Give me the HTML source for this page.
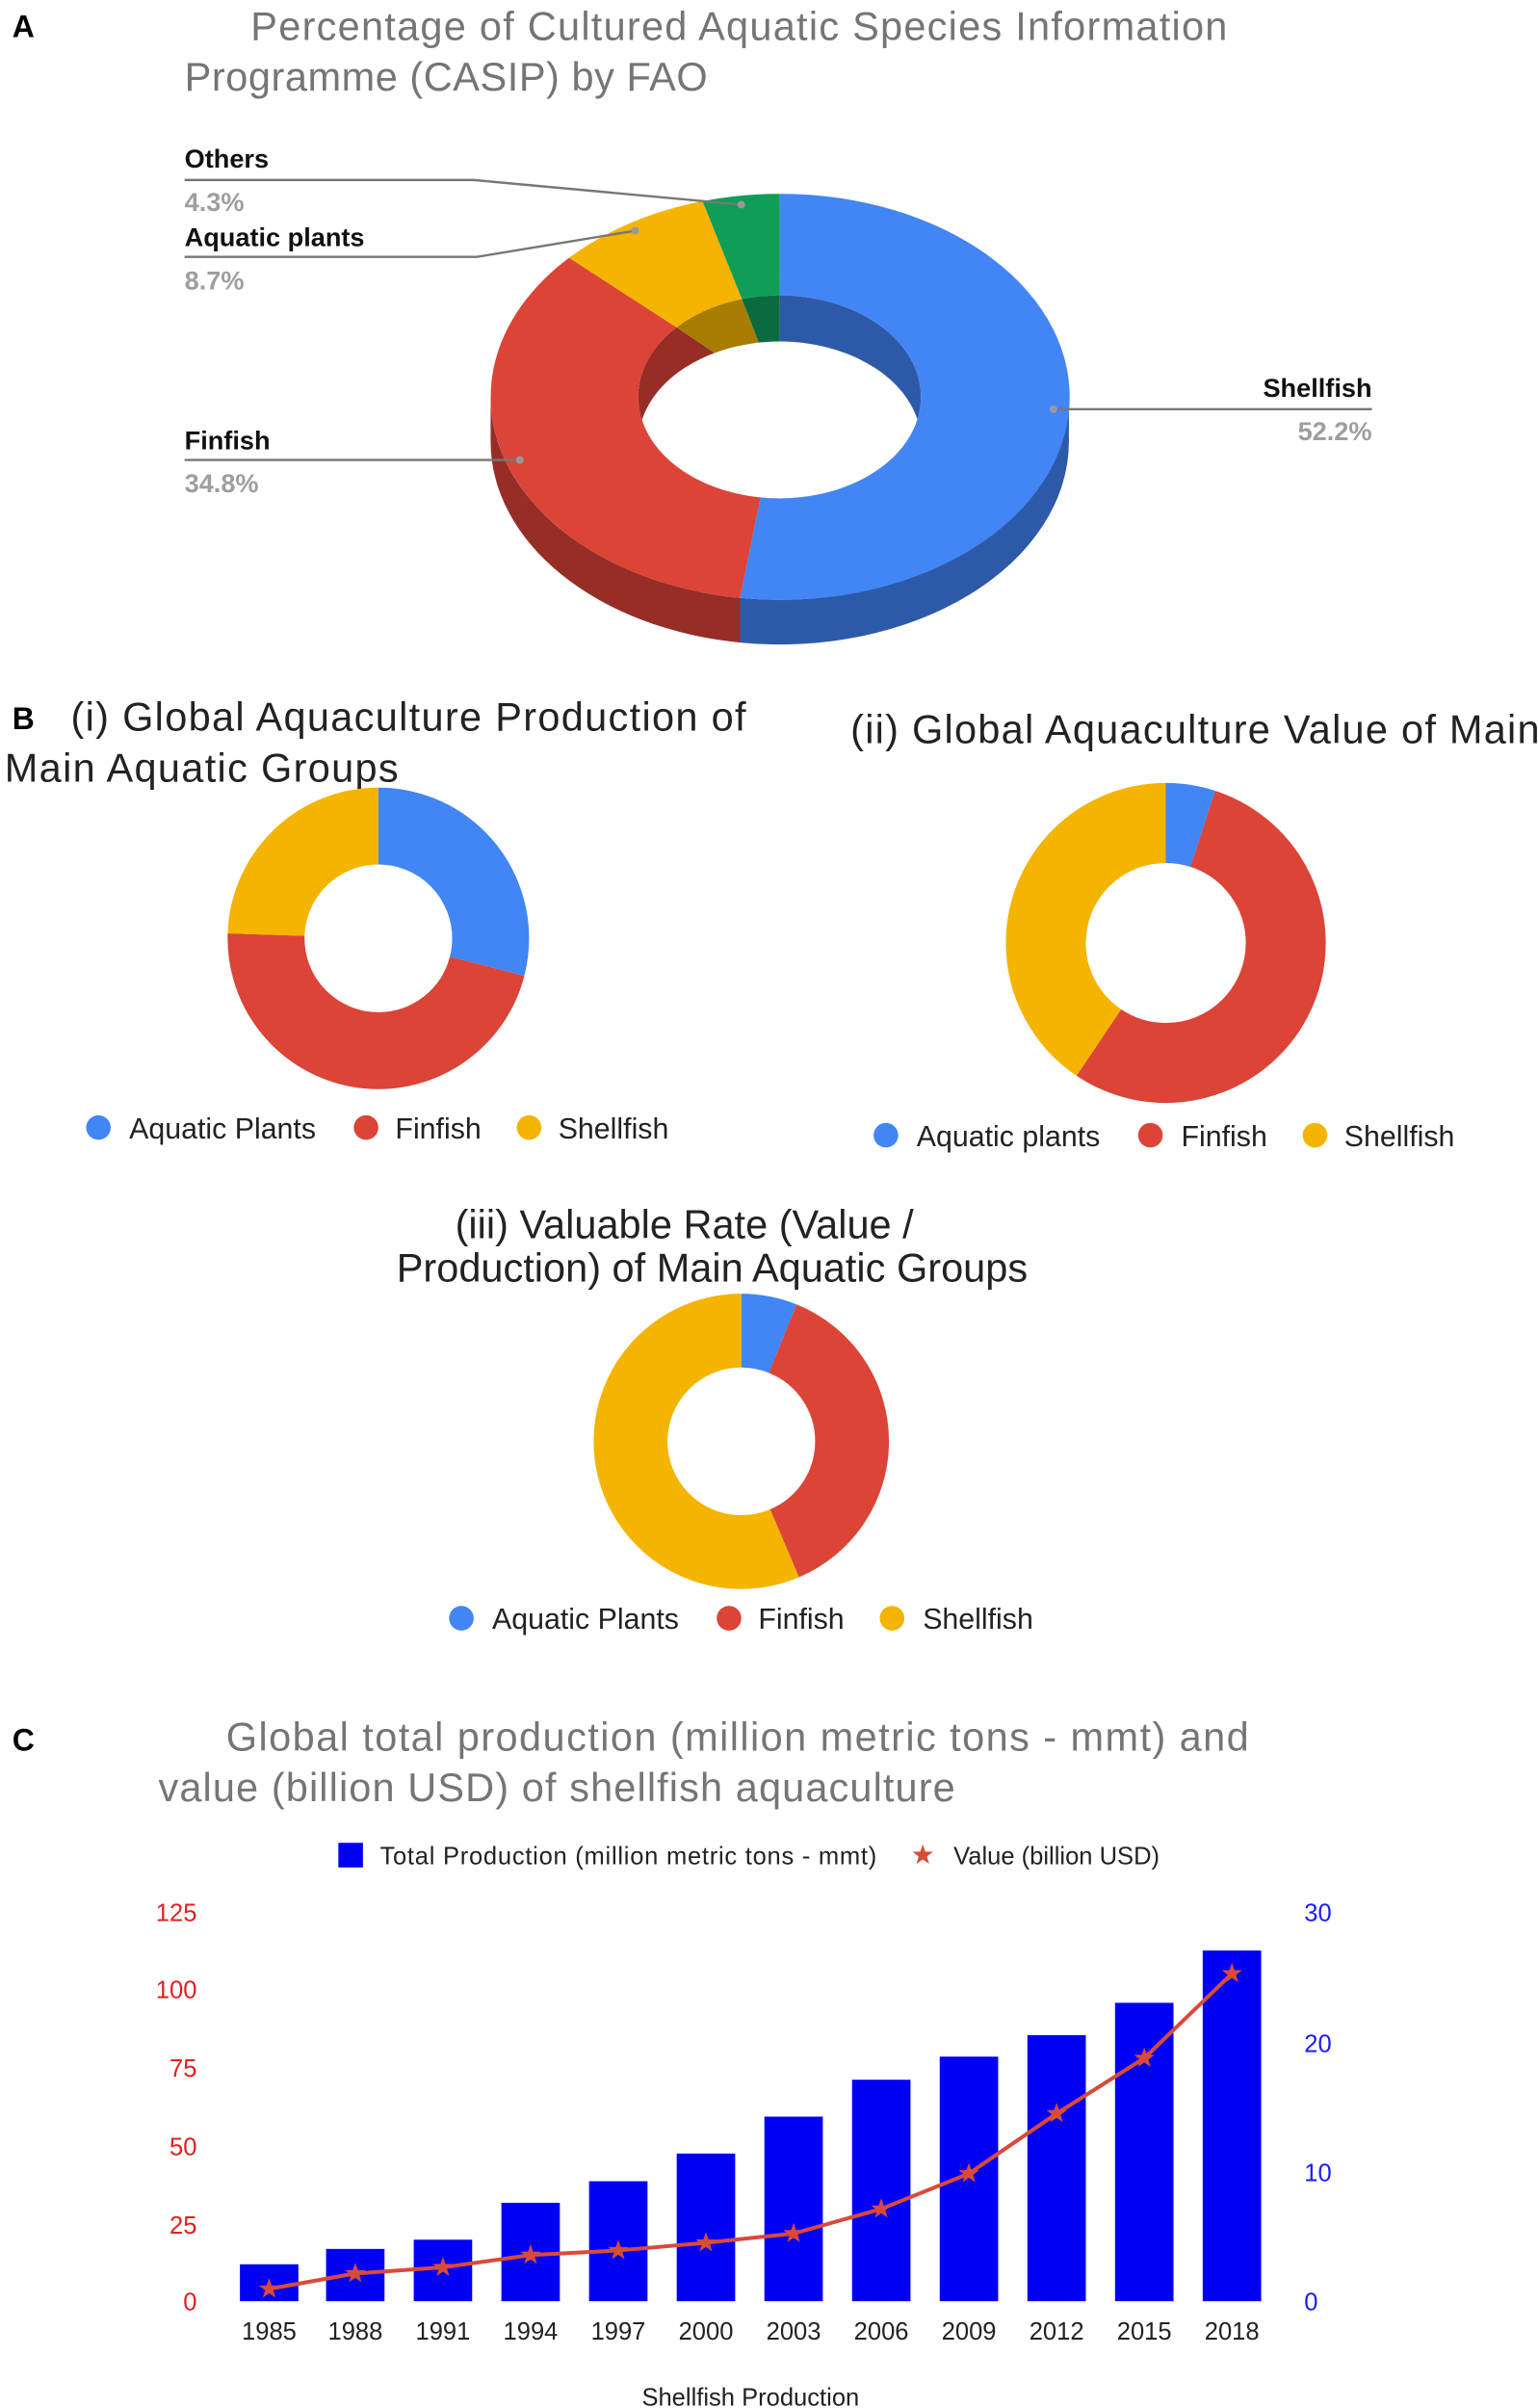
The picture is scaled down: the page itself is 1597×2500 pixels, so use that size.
<!DOCTYPE html>
<html><head><meta charset="utf-8"><style>
html,body{margin:0;padding:0;background:#fff;}
svg{display:block;font-family:"Liberation Sans",Arial,sans-serif;}
</style></head><body>
<svg width="1597" height="2500" viewBox="0 0 1000 1565.4" xmlns="http://www.w3.org/2000/svg">
<defs>
<clipPath id="inner"><ellipse cx="507" cy="258" rx="92" ry="66"/></clipPath>
<polygon id="star" points="0,-7 1.65,-2.27 6.66,-2.16 2.66,0.87 4.11,5.66 0,2.8 -4.11,5.66 -2.66,0.87 -6.66,-2.16 -1.65,-2.27"/>
</defs>
<rect width="1000" height="1565.4" fill="#fff"/>

<!-- A -->
<text x="8" y="24" font-size="20" font-weight="bold" fill="#000">A</text>
<text x="163" y="26" font-size="26" fill="#757575" textLength="635">Percentage of Cultured Aquatic Species Information</text>
<text x="120" y="59" font-size="26" fill="#757575" textLength="340">Programme (CASIP) by FAO</text>

<!-- side walls -->
<path d="M695 258 A188 132 0 0 1 481.2 388.7 L481.2 417.7 A188 132 0 0 0 695 287 Z" fill="#2d5aa8"/>
<path d="M481.2 388.7 A188 132 0 0 1 319 258 L319 287 A188 132 0 0 0 481.2 417.7 Z" fill="#962d27"/>
<!-- inner wall -->
<path d="M507 258 L507 192 A92 66 0 1 1 494.4 323.4 Z" fill="#2d5aa8"/>
<path d="M507 258 L494.4 323.4 A92 66 0 0 1 439.9 212.8 Z" fill="#962d27"/>
<path d="M507 258 L439.9 212.8 A92 66 0 0 1 482.4 194.4 Z" fill="#a87c00"/>
<path d="M507 258 L482.4 194.4 A92 66 0 0 1 507 192 Z" fill="#0b6b3f"/>
<ellipse cx="507" cy="288" rx="92" ry="66" fill="#fff" clip-path="url(#inner)"/>
<!-- top face -->
<path d="M507 126 A188 132 0 1 1 481.2 388.7 L494.4 323.4 A92 66 0 1 0 507 192 Z" fill="#4285f4"/>
<path d="M481.2 388.7 A188 132 0 0 1 370 167.6 L439.9 212.8 A92 66 0 0 0 494.4 323.4 Z" fill="#db4437"/>
<path d="M370 167.6 A188 132 0 0 1 456.8 130.8 L482.4 194.4 A92 66 0 0 0 439.9 212.8 Z" fill="#f4b400"/>
<path d="M456.8 130.8 A188 132 0 0 1 507 126 L507 192 A92 66 0 0 0 482.4 194.4 Z" fill="#0f9d58"/>

<!-- A labels -->
<g font-size="17" font-weight="bold">
<text x="120" y="109" fill="#111">Others</text>
<text x="120" y="137" fill="#9e9e9e">4.3%</text>
<text x="120" y="160" fill="#111">Aquatic plants</text>
<text x="120" y="188" fill="#9e9e9e">8.7%</text>
<text x="120" y="292" fill="#111">Finfish</text>
<text x="120" y="320" fill="#9e9e9e">34.8%</text>
<text x="892" y="258" fill="#111" text-anchor="end">Shellfish</text>
<text x="892" y="286" fill="#9e9e9e" text-anchor="end">52.2%</text>
</g>
<g stroke="#777" stroke-width="1.5" fill="none">
<polyline points="120,117 308,117 482,133"/>
<polyline points="120,167 310,167 413,150"/>
<polyline points="120,299 338,299"/>
<polyline points="685,266 892,266"/>
</g>
<g fill="#999"><circle cx="482" cy="133" r="2.5"/><circle cx="413" cy="150" r="2.5"/><circle cx="338" cy="299" r="2.5"/><circle cx="685" cy="266" r="2.5"/></g>

<!-- B -->
<text x="8" y="474" font-size="20" font-weight="bold" fill="#000">B</text>
<g font-size="26" fill="#222">
<text x="46" y="475" textLength="439">(i) Global Aquaculture Production of</text>
<text x="3" y="508" textLength="256">Main Aquatic Groups</text>
<text x="553" y="483" textLength="448">(ii) Global Aquaculture Value of Main</text>
<text x="445" y="805" text-anchor="middle">(iii) Valuable Rate (Value /</text>
<text x="463" y="833" text-anchor="middle">Production) of Main Aquatic Groups</text>
</g>

<g transform="rotate(-90 246 610)" fill="none" stroke-width="50">
<circle cx="246" cy="610" r="73" stroke="#4285f4" stroke-dasharray="133 500"/>
<circle cx="246" cy="610" r="73" stroke="#db4437" stroke-dasharray="213.3 500" stroke-dashoffset="-133"/>
<circle cx="246" cy="610" r="73" stroke="#f4b400" stroke-dasharray="112.4 500" stroke-dashoffset="-346.3"/>
</g>
<g transform="rotate(-90 758 613)" fill="none" stroke-width="52">
<circle cx="758" cy="613" r="78" stroke="#4285f4" stroke-dasharray="24.5 500"/>
<circle cx="758" cy="613" r="78" stroke="#db4437" stroke-dasharray="266.6 500" stroke-dashoffset="-24.5"/>
<circle cx="758" cy="613" r="78" stroke="#f4b400" stroke-dasharray="199 500" stroke-dashoffset="-291.1"/>
</g>
<g transform="rotate(-90 482 937)" fill="none" stroke-width="48">
<circle cx="482" cy="937" r="72" stroke="#4285f4" stroke-dasharray="27.6 500"/>
<circle cx="482" cy="937" r="72" stroke="#db4437" stroke-dasharray="169.6 500" stroke-dashoffset="-27.6"/>
<circle cx="482" cy="937" r="72" stroke="#f4b400" stroke-dasharray="255.2 500" stroke-dashoffset="-197.2"/>
</g>

<g font-size="19" fill="#222">
<circle cx="64" cy="733" r="8" fill="#4285f4"/><text x="84" y="740">Aquatic Plants</text>
<circle cx="238" cy="733" r="8" fill="#db4437"/><text x="257" y="740">Finfish</text>
<circle cx="344" cy="733" r="8" fill="#f4b400"/><text x="363" y="740">Shellfish</text>
<circle cx="576" cy="738" r="8" fill="#4285f4"/><text x="596" y="745">Aquatic plants</text>
<circle cx="748" cy="738" r="8" fill="#db4437"/><text x="768" y="745">Finfish</text>
<circle cx="855" cy="738" r="8" fill="#f4b400"/><text x="874" y="745">Shellfish</text>
<circle cx="300" cy="1052" r="8" fill="#4285f4"/><text x="320" y="1059">Aquatic Plants</text>
<circle cx="474" cy="1052" r="8" fill="#db4437"/><text x="493" y="1059">Finfish</text>
<circle cx="580" cy="1052" r="8" fill="#f4b400"/><text x="600" y="1059">Shellfish</text>
</g>

<!-- C -->
<text x="8" y="1138" font-size="20" font-weight="bold" fill="#000">C</text>
<text x="147" y="1138" font-size="26" fill="#757575" textLength="665">Global total production (million metric tons - mmt) and</text>
<text x="103" y="1171" font-size="26" fill="#757575" textLength="518">value (billion USD) of shellfish aquaculture</text>

<rect x="220" y="1198" width="16" height="16" fill="#0000f5"/>
<text x="247" y="1212" font-size="16" fill="#222" textLength="323">Total Production (million metric tons - mmt)</text>
<use href="#star" x="600" y="1206" fill="#d84a3a"/>
<text x="620" y="1212" font-size="16" fill="#222">Value (billion USD)</text>

<g font-size="16" fill="#e02020" text-anchor="end">
<text x="128" y="1249">125</text><text x="128" y="1299">100</text><text x="128" y="1350">75</text>
<text x="128" y="1401">50</text><text x="128" y="1452">25</text><text x="128" y="1502">0</text>
</g>
<g font-size="16" fill="#1a1aff">
<text x="848" y="1249">30</text><text x="848" y="1334">20</text><text x="848" y="1418">10</text><text x="848" y="1502">0</text>
</g>

<g fill="#0000f5">
<rect x="156" y="1472" width="38" height="24"/>
<rect x="212" y="1462" width="38" height="34"/>
<rect x="269" y="1456" width="38" height="40"/>
<rect x="326" y="1432" width="38" height="64"/>
<rect x="383" y="1418" width="38" height="78"/>
<rect x="440" y="1400" width="38" height="96"/>
<rect x="497" y="1376" width="38" height="120"/>
<rect x="554" y="1352" width="38" height="144"/>
<rect x="611" y="1337" width="38" height="159"/>
<rect x="668" y="1323" width="38" height="173"/>
<rect x="725" y="1302" width="38" height="194"/>
<rect x="782" y="1268" width="38" height="228"/>
</g>
<polyline fill="none" stroke="#d84a3a" stroke-width="2.5" stroke-linejoin="round" points="175,1488 231,1478 288,1474 345,1466 402,1463 459,1458 516,1452 573,1436 630,1413 687,1374 744,1338 801,1283"/>
<g fill="#d84a3a">
<use href="#star" x="175" y="1488"/><use href="#star" x="231" y="1478"/><use href="#star" x="288" y="1474"/>
<use href="#star" x="345" y="1466"/><use href="#star" x="402" y="1463"/><use href="#star" x="459" y="1458"/>
<use href="#star" x="516" y="1452"/><use href="#star" x="573" y="1436"/><use href="#star" x="630" y="1413"/>
<use href="#star" x="687" y="1374"/><use href="#star" x="744" y="1338"/><use href="#star" x="801" y="1283"/>
</g>
<g font-size="16" fill="#222" text-anchor="middle">
<text x="175" y="1521">1985</text><text x="231" y="1521">1988</text><text x="288" y="1521">1991</text>
<text x="345" y="1521">1994</text><text x="402" y="1521">1997</text><text x="459" y="1521">2000</text>
<text x="516" y="1521">2003</text><text x="573" y="1521">2006</text><text x="630" y="1521">2009</text>
<text x="687" y="1521">2012</text><text x="744" y="1521">2015</text><text x="801" y="1521">2018</text>
<text x="488" y="1564">Shellfish Production</text>
</g>
</svg>
</body></html>
